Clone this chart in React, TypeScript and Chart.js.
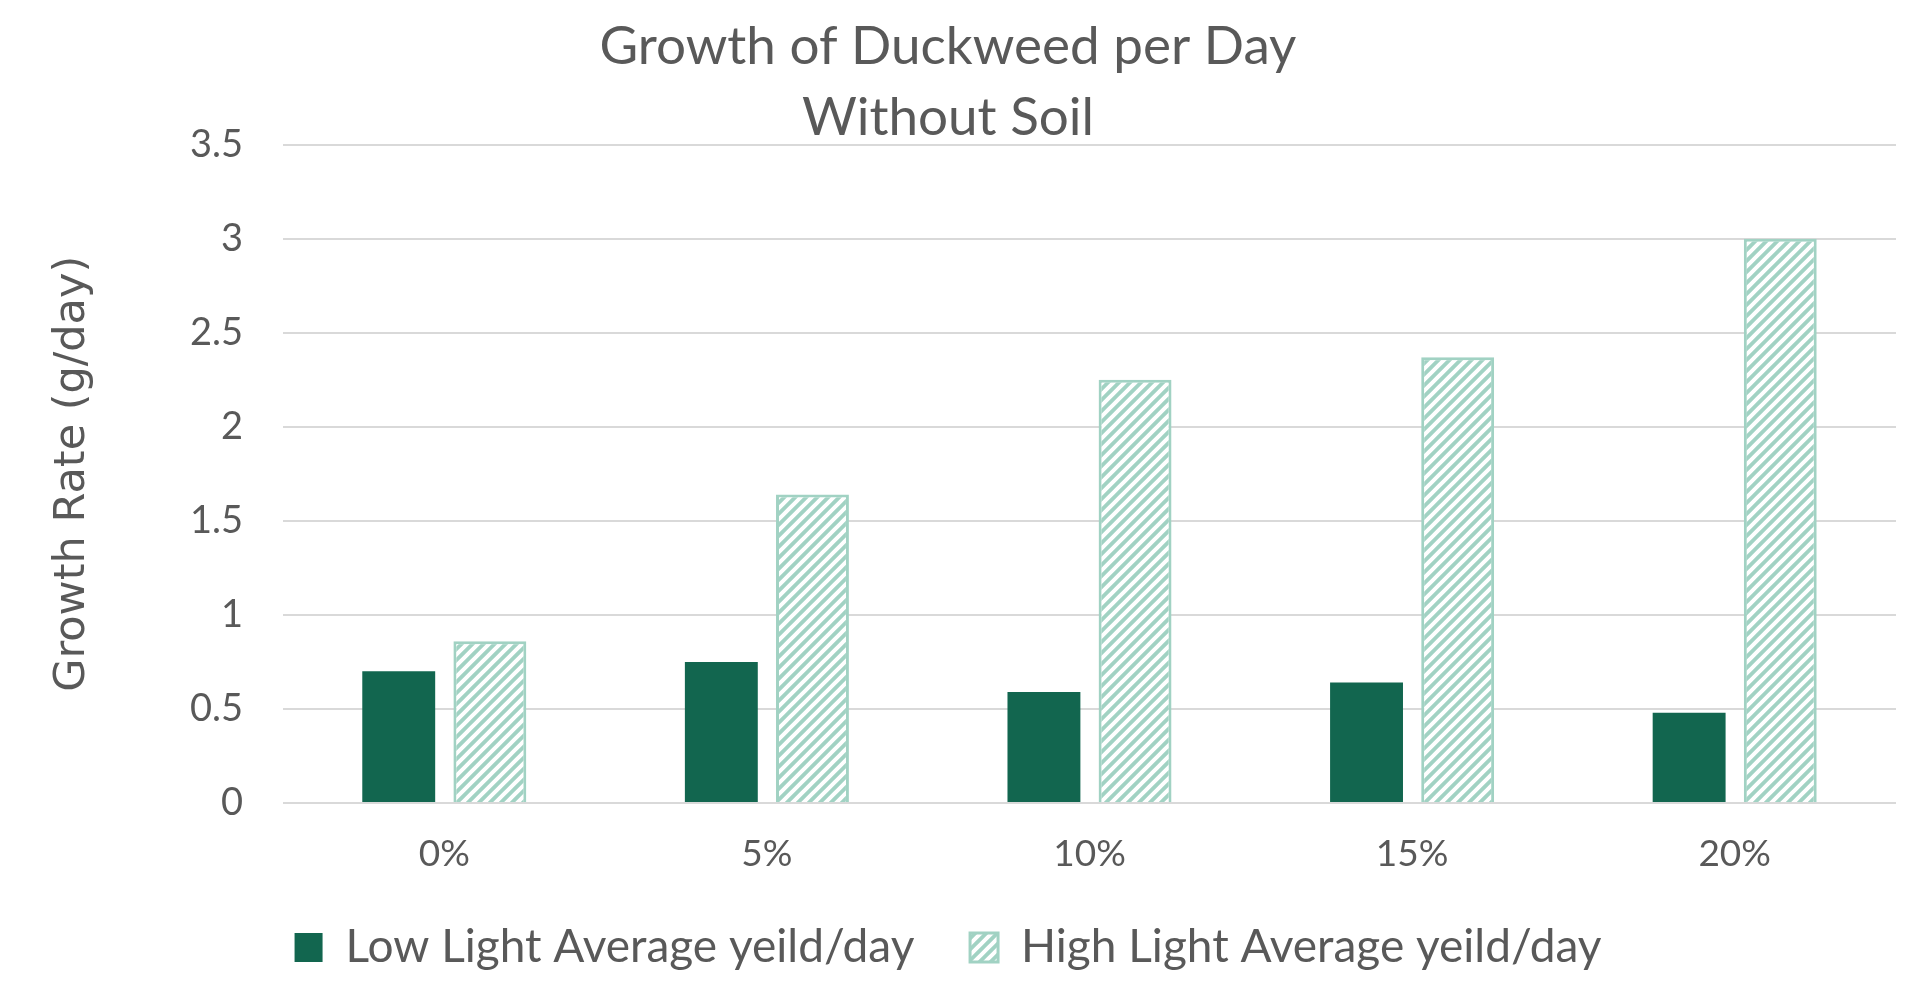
import React, { useEffect, useRef } from "react";
import { Chart, registerables } from "chart.js";

Chart.register(...registerables);

const categories = ["0%", "5%", "10%", "15%", "20%"];
const lowLight = [0.7, 0.75, 0.59, 0.64, 0.48];
const highLight = [0.86, 1.64, 2.25, 2.37, 3.0];
const seriesNames = ["Low Light Average yeild/day", "High Light Average yeild/day"];
const titleLines = ["Growth of Duckweed per Day", "Without Soil"];
const yTitle = "Growth Rate (g/day)";

const DARK = "#12664f";
const LIGHT = "#a1d2c3";
const TEXT = "#595959";
const GRID = "#d9d9d9";

function makeHatch(): CanvasPattern | string {
  const s = 11;
  const c = document.createElement("canvas");
  c.width = s;
  c.height = s;
  const g = c.getContext("2d");
  if (!g) return LIGHT;
  g.fillStyle = LIGHT;
  g.fillRect(0, 0, s, s);
  g.strokeStyle = "#ffffff";
  g.lineWidth = 4;
  g.beginPath();
  g.moveTo(0, s);
  g.lineTo(s, 0);
  g.moveTo(-s / 2, s / 2);
  g.lineTo(s / 2, -s / 2);
  g.moveTo(s / 2, s + s / 2);
  g.lineTo(s + s / 2, s / 2);
  g.stroke();
  const p = g.createPattern(c, "repeat");
  return p || LIGHT;
}

export default function App() {
  const ref = useRef<HTMLCanvasElement | null>(null);

  useEffect(() => {
    if (!ref.current) return;
    const hatch = makeHatch();
    const chart = new Chart(ref.current, {
      type: "bar",
      data: {
        labels: categories,
        datasets: [
          {
            label: seriesNames[0],
            data: lowLight,
            backgroundColor: DARK,
            borderWidth: 0,
            categoryPercentage: 0.565,
            barPercentage: 0.8,
          },
          {
            label: seriesNames[1],
            data: highLight,
            backgroundColor: hatch as any,
            borderColor: LIGHT,
            borderWidth: 3,
            categoryPercentage: 0.565,
            barPercentage: 0.8,
          },
        ],
      },
      options: {
        animation: false,
        responsive: true,
        maintainAspectRatio: false,
        layout: { padding: { left: 0, right: 26, top: 0, bottom: 16.5 } },
        plugins: {
          title: {
            display: true,
            text: titleLines,
            color: TEXT,
            font: { family: "Lato", size: 53, weight: "normal", lineHeight: 1.34 },
            padding: { top: 11, bottom: -8.4 },
          },
          legend: {
            position: "bottom",
            labels: {
              color: TEXT,
              font: { family: "Lato", size: 46 },
              boxWidth: 28,
              boxHeight: 29,
              padding: 55.7,
            },
          },
          tooltip: { enabled: false },
        },
        scales: {
          x: {
            grid: { display: false, drawTicks: false },
            border: { display: false },
            ticks: {
              color: TEXT,
              font: { family: "Lato", size: 37, lineHeight: 0.8 },
              padding: 36.2,
            },
            afterFit: (scale: any) => {
              scale.height = 65.8;
            },
          },
          y: {
            min: 0,
            max: 3.5,
            afterFit: (scale: any) => {
              scale.width = 283;
            },
            ticks: {
              stepSize: 0.5,
              color: TEXT,
              font: { family: "Lato", size: 38 },
              padding: 40,
              callback: (v: any) => String(Number(v)),
            },
            grid: {
              color: GRID,
              lineWidth: 2,
              drawTicks: false,
            },
            border: { display: false },
            title: {
              display: true,
              text: yTitle,
              color: TEXT,
              font: { family: "DejaVu Sans", size: 43 },
              padding: { top: 47, bottom: 0 },
            },
          },
        },
      },
    });
    return () => chart.destroy();
  }, []);

  return (
    <div style={{ position: "absolute", left: 0, top: 0, width: 1922, height: 997, background: "#fff" }}>
      <canvas ref={ref} />
    </div>
  );
}
